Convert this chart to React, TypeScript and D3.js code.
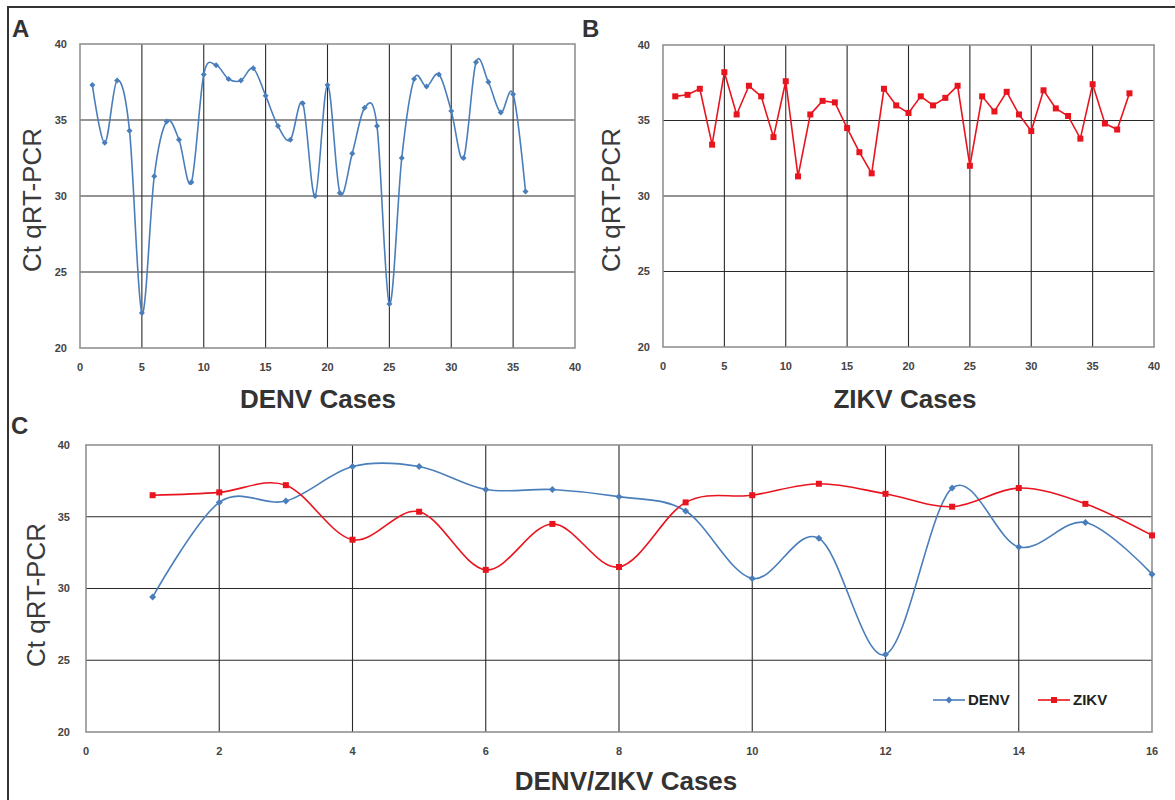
import React from 'react';
import * as d3 from 'd3';

// values
const denvA = [37.3, 33.5, 37.6, 34.3, 22.3, 31.3, 34.9, 33.7, 30.9, 38.0, 38.6, 37.7, 37.6, 38.4, 36.6, 34.6, 33.7, 36.1,
  30.0, 37.3, 30.2, 32.8, 35.8, 34.6, 22.9, 32.5, 37.7, 37.2, 38.0, 35.6, 32.5, 38.8, 37.5, 35.5, 36.7, 30.3];
const zikvB = [36.6, 36.7, 37.1, 33.4, 38.2, 35.4, 37.3, 36.6, 33.9, 37.6, 31.3, 35.4, 36.3, 36.2, 34.5, 32.9, 31.5, 37.1,
  36.0, 35.5, 36.6, 36.0, 36.5, 37.3, 32.0, 36.6, 35.6, 36.9, 35.4, 34.3, 37.0, 35.8, 35.3, 33.8, 37.4, 34.8, 34.4, 36.8];
const denvC = [29.4, 36.0, 36.1, 38.5, 38.5, 36.9, 36.9, 36.4, 35.4, 30.7, 33.5, 25.4, 37.0, 32.9, 34.6, 31.0];
const zikvC = [36.5, 36.7, 37.2, 33.4, 35.35, 31.3, 34.5, 31.5, 36.0, 36.5, 37.3, 36.6, 35.7, 37.0, 35.9, 33.7];

const yTicks = [20, 25, 30, 35, 40];
const xTicksAB = [0, 5, 10, 15, 20, 25, 30, 35, 40];
const xTicksC = [0, 2, 4, 6, 8, 10, 12, 14, 16];
const seriesNames = ['DENV', 'ZIKV'];

const BLUE = '#4a7ebb';
const RED = '#e8141e';
const FONT = 'Arial, "Liberation Sans", sans-serif';

type Series = { values: number[]; color: string; marker: 'diamond' | 'square'; curve: d3.CurveFactory };

function Marker({ x, y, kind, color, size }: { x: number; y: number; kind: string; color: string; size: number }) {
  if (kind === 'square') {
    return <rect x={x - size / 2} y={y - size / 2} width={size} height={size} fill={color} />;
  }
  const s = size / 2 + 0.5;
  return <path d={`M${x},${y - s}L${x + s},${y}L${x},${y + s}L${x - s},${y}Z`} fill={color} />;
}

function Panel({ x0, x1, y0, y1, xMax, xTicks, series, markerSize, tickOffsetX }: {
  x0: number; x1: number; y0: number; y1: number; xMax: number; xTicks: number[];
  series: Series[]; markerSize: number; tickOffsetX: number;
}) {
  const x = d3.scaleLinear().domain([0, xMax]).range([x0, x1]);
  const y = d3.scaleLinear().domain([20, 40]).range([y1, y0]);
  return (
    <g>
      <rect x={x0} y={y0} width={x1 - x0} height={y1 - y0} fill="#fff" />
      {yTicks.slice(1, -1).map(t => (
        <line key={'h' + t} x1={x0} x2={x1} y1={y(t)} y2={y(t)} stroke="#2a2a2a" strokeWidth={1.1} />
      ))}
      {xTicks.slice(1, -1).map(t => (
        <line key={'v' + t} x1={x(t)} x2={x(t)} y1={y0} y2={y1} stroke="#2a2a2a" strokeWidth={1.1} />
      ))}
      <rect x={x0} y={y0} width={x1 - x0} height={y1 - y0} fill="none" stroke="#8a8a8a" strokeWidth={1.5} />
      {yTicks.map(t => (
        <text key={'yt' + t} x={x0 - tickOffsetX} y={y(t)} dy="0.35em" textAnchor="end"
          fontFamily={FONT} fontWeight="bold" fontSize={11} fill="#444">{t}</text>
      ))}
      {xTicks.map(t => (
        <text key={'xt' + t} x={x(t)} y={y1 + 19} dy="0.35em" textAnchor="middle"
          fontFamily={FONT} fontWeight="bold" fontSize={11} fill="#444">{t}</text>
      ))}
      {series.map((s, si) => {
        const line = d3.line<number>().x((_, i) => x(i + 1)).y(d => y(d)).curve(s.curve);
        return (
          <g key={si}>
            <path d={line(s.values) || ''} fill="none" stroke={s.color} strokeWidth={1.6} />
            {s.values.map((v, i) => (
              <Marker key={i} x={x(i + 1)} y={y(v)} kind={s.marker} color={s.color} size={markerSize} />
            ))}
          </g>
        );
      })}
    </g>
  );
}

const smooth = d3.curveCatmullRom.alpha(0);

export default function App() {
  const yTitle = (cx: number, cy: number) => (
    <text transform={`translate(${cx},${cy}) rotate(-90)`} textAnchor="middle" dy="0.35em"
      fontFamily={FONT} fontSize={26} fill="#3a3a3a">Ct qRT-PCR</text>
  );
  const xTitle = (cx: number, by: number, label: string) => (
    <text x={cx} y={by} textAnchor="middle" fontFamily={FONT} fontWeight="bold" fontSize={26} fill="#333">{label}</text>
  );
  const letter = (lx: number, by: number, label: string) => (
    <text x={lx} y={by} fontFamily={FONT} fontWeight="bold" fontSize={24} fill="#333">{label}</text>
  );
  return (
    <svg width={1175} height={800} style={{ position: 'absolute', left: 0, top: 0, background: '#fff' }}>
      <rect width={1175} height={800} fill="#fff" />
      <line x1={7} x2={1175} y1={7} y2={7} stroke="#333" strokeWidth={2} />
      <line x1={8} x2={8} y1={6} y2={800} stroke="#333" strokeWidth={2} />

      {letter(12, 37, 'A')}
      {letter(582, 37, 'B')}
      {letter(11, 434, 'C')}

      <Panel x0={80} x1={575} y0={44} y1={348} xMax={40} xTicks={xTicksAB} markerSize={5} tickOffsetX={13}
        series={[{ values: denvA, color: BLUE, marker: 'diamond', curve: smooth }]} />
      {yTitle(32, 200)}
      {xTitle(318, 408, 'DENV Cases')}

      <Panel x0={663} x1={1154} y0={45} y1={347} xMax={40} xTicks={xTicksAB} markerSize={6} tickOffsetX={13}
        series={[{ values: zikvB, color: RED, marker: 'square', curve: d3.curveLinear }]} />
      {yTitle(611, 200)}
      {xTitle(905, 408, 'ZIKV Cases')}

      <Panel x0={86} x1={1152} y0={445} y1={732} xMax={16} xTicks={xTicksC} markerSize={6} tickOffsetX={16}
        series={[
          { values: denvC, color: BLUE, marker: 'diamond', curve: smooth },
          { values: zikvC, color: RED, marker: 'square', curve: smooth },
        ]} />
      {yTitle(36, 595)}
      {xTitle(626, 790, 'DENV/ZIKV Cases')}

      {/* legend */}
      {seriesNames.map((name, i) => {
        const lx = i === 0 ? 933 : 1038;
        const color = i === 0 ? BLUE : RED;
        return (
          <g key={name}>
            <line x1={lx} x2={lx + 32} y1={700} y2={700} stroke={color} strokeWidth={1.6} />
            <Marker x={lx + 16} y={700} kind={i === 0 ? 'diamond' : 'square'} color={color} size={6} />
            <text x={lx + 35} y={700} dy="0.36em" fontFamily={FONT} fontWeight="bold" fontSize={15} fill="#222">{name}</text>
          </g>
        );
      })}
    </svg>
  );
}
